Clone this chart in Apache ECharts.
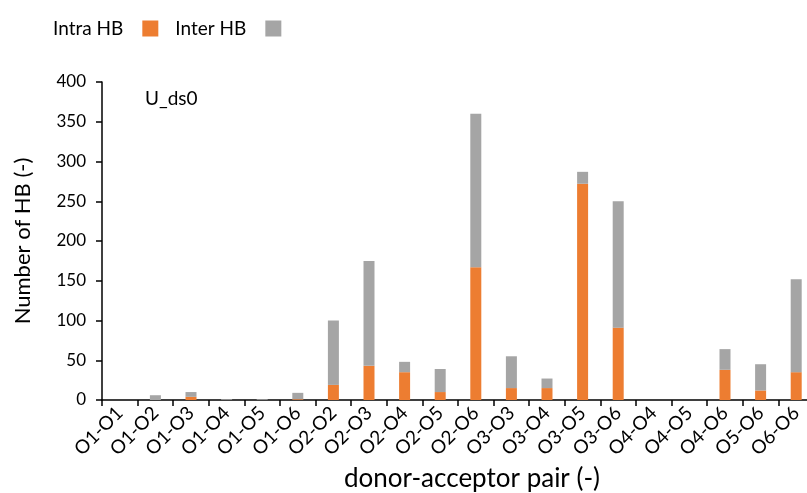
<!DOCTYPE html>
<html>
<head>
<meta charset="utf-8">
<script src="https://cdn.jsdelivr.net/npm/echarts@6/dist/echarts.min.js"></script>
<style>html,body{margin:0;padding:0;background:#fff}#c{width:807px;height:493px}</style>
</head>
<body>
<div id="c"></div>
<script>
var categories = ['O1-O1','O1-O2','O1-O3','O1-O4','O1-O5','O1-O6','O2-O2','O2-O3','O2-O4','O2-O5','O2-O6','O3-O3','O3-O4','O3-O5','O3-O6','O4-O4','O4-O5','O4-O6','O5-O6','O6-O6'];
var intraHB = [0,0,4,0,0,1,19,43,35,10,167,15,15,272,91,0,0,38,12,35];
var interHB = [0,6,6,1,1,8,81,132,13,29,193,40,12,15,159,0,0,26,33,117];
var yTicks = [0,50,100,150,200,250,300,350,400];

var FONT = 'Lato';
var chart = echarts.init(document.getElementById('c'), null, {renderer:'canvas'});
chart.setOption({
  animation:false,
  textStyle:{fontFamily:FONT},
  legend:{
    left:48, top:14, align:'right', itemWidth:16, itemHeight:16, itemGap:17,
    icon:'rect',
    formatter:function(n){return '{a|'+n+'}';},
    textStyle:{fontFamily:FONT, fontSize:19, color:'#000',
      rich:{a:{fontFamily:FONT, fontSize:19, color:'#000', padding:[0,14,0,0]}}},
    data:['Intra HB','Inter HB']
  },
  grid:{left:102, top:82, width:712, height:318, containLabel:false, outerBoundsMode:'none'},
  graphic:[{
    type:'text', left:145, top:89,
    style:{text:'U_ds0', font:'19px Lato', fill:'#000'}
  }],
  xAxis:{
    type:'category', data:categories,
    name:'donor-acceptor pair (-)', nameLocation:'middle', nameGap:66,
    nameTextStyle:{fontFamily:FONT, fontSize:26, color:'#000', padding:[0,0,0,28]},
    axisLine:{lineStyle:{color:'#000', width:1.5}},
    axisTick:{show:true, alignWithLabel:false, length:6, lineStyle:{color:'#000', width:1.5}},
    axisLabel:{rotate:45, fontFamily:FONT, fontSize:19, color:'#000', margin:10, interval:0}
  },
  yAxis:{
    type:'value', min:0, max:400, interval:50,
    name:'Number of HB (-)', nameLocation:'middle', nameGap:68, nameRotate:90,
    nameTextStyle:{fontFamily:FONT, fontSize:22, color:'#000'},
    axisLine:{show:true, lineStyle:{color:'#000', width:1.5}},
    axisTick:{show:true, length:6, lineStyle:{color:'#000', width:1.5}},
    splitLine:{show:false},
    axisLabel:{fontFamily:FONT, fontSize:17, color:'#000', margin:16,
      formatter:function(v){return yTicks.indexOf(v)>=0?String(v):'';}}
  },
  series:[
    {name:'Intra HB', type:'bar', stack:'hb', data:intraHB, barWidth:11, itemStyle:{color:'#ED7D31'}},
    {name:'Inter HB', type:'bar', stack:'hb', data:interHB, barWidth:11, itemStyle:{color:'#A5A5A5'}}
  ]
});
</script>
</body>
</html>
